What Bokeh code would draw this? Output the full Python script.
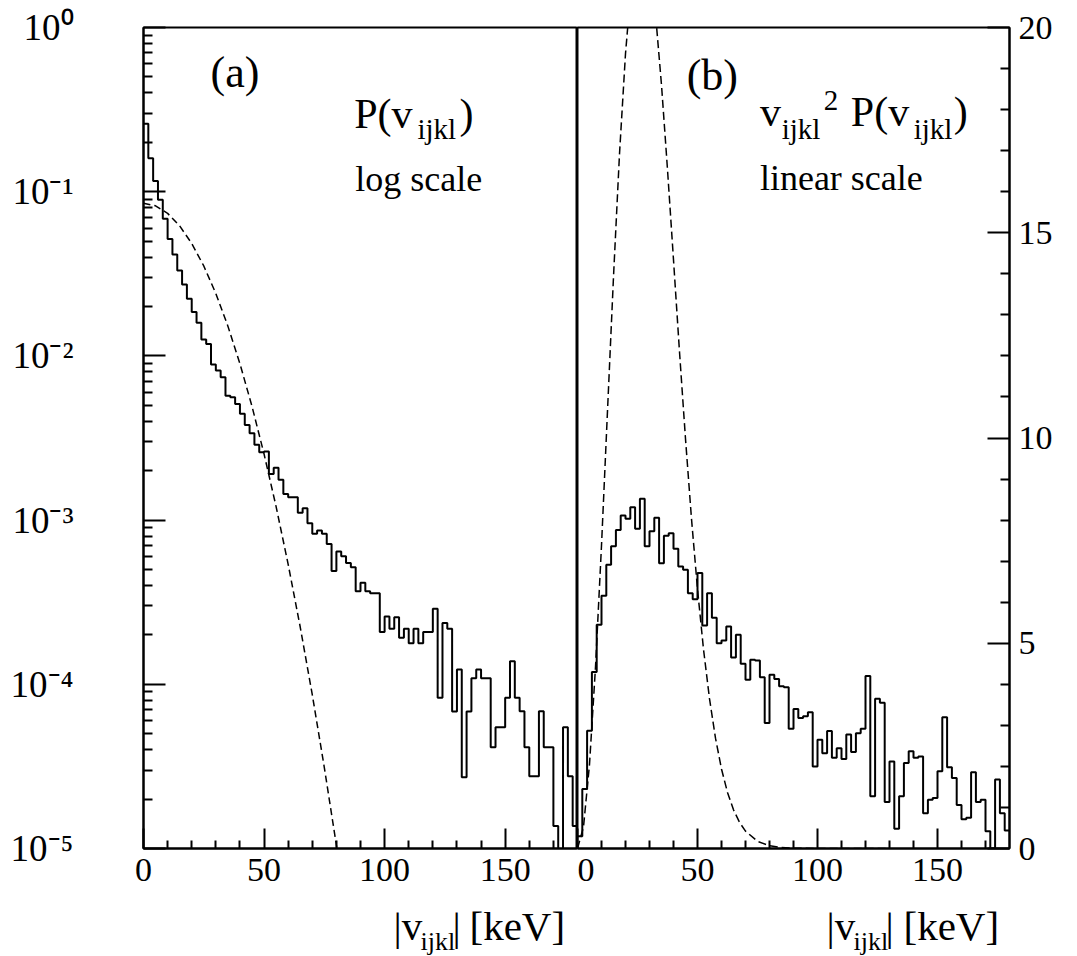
import numpy as np
from bokeh.plotting import figure
from bokeh.layouts import row, column
from bokeh.models import Range1d, Label, FixedTicker
from bokeh.core.properties import value
from bokeh.embed import file_html
from bokeh.resources import INLINE

# ---------------- data ----------------
bin_low_kev = list(range(0, 180, 2))          # 2 keV bins, 0..180
bin_upper_edge = 180

# panel (a): P(v) histogram, log scale
p_v_values = [
    0.259, 0.160, 0.116, 0.0893, 0.0684, 0.0516, 0.0415, 0.0331, 0.0272, 0.0223,
    0.0185, 0.0159, 0.0126, 0.0118, 0.00887, 0.00815, 0.00742, 0.00572, 0.0056, 0.0051,
    0.00444, 0.0038, 0.00338, 0.00288, 0.00259, 0.00262, 0.00191, 0.00208, 0.00176, 0.00144,
    0.00138, 0.00138, 0.00111, 0.00118, 0.000958, 0.000825, 0.000865, 0.000825, 0.000716, 0.000489,
    0.000644, 0.000603, 0.000547, 0.000517, 0.000369, 0.000415, 0.000369, 0.000359, 0.000359, 0.000208,
    0.000259, 0.000218, 0.000256, 0.000192, 0.000218, 0.000178, 0.000218, 0.000178, 0.000208, 0.000208,
    0.000288, 8.28e-5, 0.000236, 0.000218, 6.83e-5, 0.000123, 2.72e-5, 6.83e-5, 0.000109, 0.000123,
    0.000109, 0.000109, 4.14e-5, 5.48e-5, 5.48e-5, 8.28e-5, 0.000138, 8.28e-5, 6.86e-5, 4.14e-5,
    2.75e-5, 2.75e-5, 6.86e-5, 4.14e-5, 4.14e-5, 1.37e-5, 0.0, 5.48e-5, 2.75e-5, 1.37e-5,
]

# panel (b): v^2 P(v) histogram, linear scale
v2p_values = [
    0.30, 1.45, 2.87, 4.30, 5.45, 6.16, 6.91, 7.36, 7.76, 8.11,
    8.03, 8.31, 7.79, 8.52, 7.36, 7.73, 8.06, 6.95, 7.62, 7.68,
    7.30, 6.87, 6.79, 6.22, 6.07, 6.71, 5.43, 6.22, 5.62, 5.00,
    5.07, 5.41, 4.65, 5.21, 4.50, 4.11, 4.60, 4.58, 4.17, 3.06,
    4.23, 4.13, 3.95, 3.93, 2.92, 3.40, 3.18, 3.22, 3.32, 2.00,
    2.65, 2.32, 2.86, 2.21, 2.44, 2.18, 2.78, 2.35, 2.81, 2.92,
    4.20, 1.27, 3.65, 3.55, 1.13, 2.12, 0.48, 1.27, 2.08, 2.37,
    2.21, 2.24, 0.86, 1.19, 1.23, 1.88, 3.20, 1.98, 1.72, 1.06,
    0.71, 0.75, 1.86, 1.13, 1.19, 0.42, 0.00, 1.68, 0.86, 0.44,
]

# dashed Gaussian reference curves
gauss_v_log = [0, 5, 10, 15, 20, 25, 30, 35, 40, 45, 50, 55, 60, 65, 70, 75, 80, 82]
gauss_p_log = [0.085, 0.0821, 0.0738, 0.0619, 0.0484, 0.0353, 0.0240, 0.01518, 0.00896,
               0.00493, 0.002526, 0.001207, 0.000538, 0.0002233, 8.64e-5, 3.11e-5,
               1.048e-5, 6.6e-6]

gauss_v_lin = [0, 2.5, 5, 7.5, 10, 12.5, 15, 17.5, 20, 22.5, 25, 27.5, 30, 32.5, 35,
               37.5, 40, 42.5, 45, 47.5, 50, 52.5, 55, 57.5, 60, 62.5, 65, 67.5, 70,
               75, 80, 85, 90, 100, 110, 120, 130]
gauss_v2p_lin = [0, 0.527, 2.05, 4.418, 7.38, 10.66, 13.93, 16.92, 19.36, 21.11, 22.06,
                 22.19, 21.6, 20.33, 18.6, 16.54, 14.34, 12.10, 9.98, 8.03, 6.32, 4.855,
                 3.65, 2.687, 1.937, 1.366, 0.943, 0.639, 0.423, 0.175, 0.067, 0.024,
                 0.008, 0.001, 0, 0, 0]

x_major_ticks = [0, 50, 100, 150]
x_minor_ticks = [v for v in range(10, 180, 10) if v % 50 != 0]
log_decades = [1e-5, 1e-4, 1e-3, 1e-2, 1e-1, 1.0]
log_tick_labels = ["10\u207b\u2075", "10\u207b\u2074", "10\u207b\u00b3",
                   "10\u207b\u00b2", "10\u207b\u00b9", "10\u2070"]
lin_major_ticks = [0, 5, 10, 15, 20]
lin_minor_ticks = [v for v in range(1, 20) if v % 5 != 0]
X_MAX = 180

FONT = "Liberation Serif"
TICK_FS = "34px"

# ---------------- layout sizes ----------------
LEFT_BORDER = 143
TOP_BORDER = 27
FRAME_H = 821
BOTTOM_BORDER = 50
FRAME_W_A = 434
FRAME_W_B = 432
RIGHT_BORDER = 62
TOTAL_W = LEFT_BORDER + FRAME_W_A + FRAME_W_B + RIGHT_BORDER
FOOT_TOP = TOP_BORDER + FRAME_H + BOTTOM_BORDER
FOOT_H = 955 - FOOT_TOP


# ---------------- helpers ----------------
def style_common(p):
    p.outline_line_color = "black"
    p.outline_line_width = 2
    p.xgrid.visible = False
    p.ygrid.visible = False
    p.background_fill_color = "white"
    p.border_fill_color = "white"
    for ax in p.xaxis + p.yaxis:
        ax.axis_line_width = 2
        ax.major_tick_line_width = 2
        ax.minor_tick_line_width = 2
        ax.major_tick_out = 0
        ax.minor_tick_out = 0
        ax.major_label_text_font = FONT
        ax.major_label_text_font_size = TICK_FS
        ax.major_label_text_color = "black"
    for ax in p.xaxis:
        ax.ticker = FixedTicker(ticks=x_major_ticks, minor_ticks=x_minor_ticks)
        ax.major_tick_in = 20
        ax.minor_tick_in = 8
        ax.major_label_standoff = 10


def add_text(p, x, y, text, size):
    p.add_layout(Label(x=x, y=y, text=text, text_font=FONT,
                       text_font_size=size, text_color="black",
                       text_align="left", text_baseline="alphabetic"))


edges = bin_low_kev + [bin_upper_edge]

# ---------------- panel (a) ----------------
pa = figure(output_backend="svg", toolbar_location=None, title=None,
            frame_width=FRAME_W_A, frame_height=FRAME_H,
            min_border_left=LEFT_BORDER, min_border_right=0,
            min_border_top=TOP_BORDER, min_border_bottom=BOTTOM_BORDER,
            x_range=Range1d(0, X_MAX), y_range=Range1d(1e-5, 1.0),
            y_axis_type="log")
style_common(pa)
pa.yaxis.ticker = FixedTicker(
    ticks=log_decades,
    minor_ticks=[m * d for d in log_decades[:-1] for m in range(2, 10)])
pa.yaxis.major_tick_in = 22
pa.yaxis.minor_tick_in = 9
pa.yaxis.major_label_standoff = 70
pa.yaxis.major_label_text_font_size = "37px"
pa.yaxis.major_label_overrides = dict(zip(log_decades, log_tick_labels))

pv_plot = [max(v, 1e-7) for v in p_v_values]
pa.step(edges, pv_plot + [pv_plot[-1]], mode="after",
        line_color="black", line_width=2)
pa.line(gauss_v_log, gauss_p_log, line_color="black", line_width=1.5,
        line_dash="7 4")

add_text(pa, 27.8, 0.535, "(a)", "44px")
add_text(pa, 87.4, 0.299, "P(v", "42px")
add_text(pa, 113.6, 0.240, "ijkl", "29px")
add_text(pa, 131.1, 0.299, ")", "42px")
add_text(pa, 87.8, 0.119, "log scale", "36px")

# ---------------- panel (b) ----------------
pb = figure(output_backend="svg", toolbar_location=None, title=None,
            frame_width=FRAME_W_B, frame_height=FRAME_H,
            min_border_left=0, min_border_right=RIGHT_BORDER,
            min_border_top=TOP_BORDER, min_border_bottom=BOTTOM_BORDER,
            x_range=Range1d(0, X_MAX), y_range=Range1d(0, 20),
            y_axis_location="right")
style_common(pb)
pb.yaxis.ticker = FixedTicker(ticks=lin_major_ticks, minor_ticks=lin_minor_ticks)
pb.yaxis.major_tick_in = 22
pb.yaxis.minor_tick_in = 9
pb.yaxis.major_label_standoff = 9

pb.step(edges, v2p_values + [v2p_values[-1]], mode="after",
        line_color="black", line_width=2)
pb.line(gauss_v_lin, gauss_v2p_lin, line_color="black", line_width=1.5,
        line_dash="8 4")

add_text(pb, 45.5, 18.84, "(b)", "44px")
add_text(pb, 76.0, 17.95, "v", "42px")
add_text(pb, 85.1, 17.52, "ijkl", "29px")
add_text(pb, 102.6, 18.23, "2", "29px")
add_text(pb, 113.9, 17.95, "P(v", "42px")
add_text(pb, 140.1, 17.52, "ijkl", "29px")
add_text(pb, 156.8, 17.95, ")", "42px")
add_text(pb, 76.0, 16.33, "linear scale", "36px")

# ---------------- footer with the axis titles ----------------
# coordinates here are pixels of the footer strip (y measured downward)
foot = figure(output_backend="svg", toolbar_location=None, title=None,
              frame_width=TOTAL_W, frame_height=FOOT_H,
              min_border=0, min_border_left=0, min_border_right=0,
              min_border_top=0, min_border_bottom=0,
              x_range=Range1d(0, TOTAL_W), y_range=Range1d(FOOT_H, 0),
              x_axis_location=None, y_axis_location=None)
foot.outline_line_color = None
foot.xgrid.visible = False
foot.ygrid.visible = False

title_x_big = [393, 452, 469, 826, 885, 903]
title_t_big = ["|v", "|", "[keV]", "|v", "|", "[keV]"]
title_x_sub = [420, 853]
title_t_sub = ["ijkl", "ijkl"]
base_big = 925 - FOOT_TOP
base_sub = 941 - FOOT_TOP

foot.text(x=title_x_big, y=[base_big] * len(title_x_big), text=title_t_big,
          text_font=value(FONT), text_font_size="41px", text_color="black",
          text_align="left", text_baseline="alphabetic")
foot.text(x=title_x_sub, y=[base_sub] * len(title_x_sub), text=title_t_sub,
          text_font=value(FONT), text_font_size="26px", text_color="black",
          text_align="left", text_baseline="alphabetic")

layout = column(row(pa, pb), foot)
open("out.html", "w").write(file_html(layout, INLINE))
